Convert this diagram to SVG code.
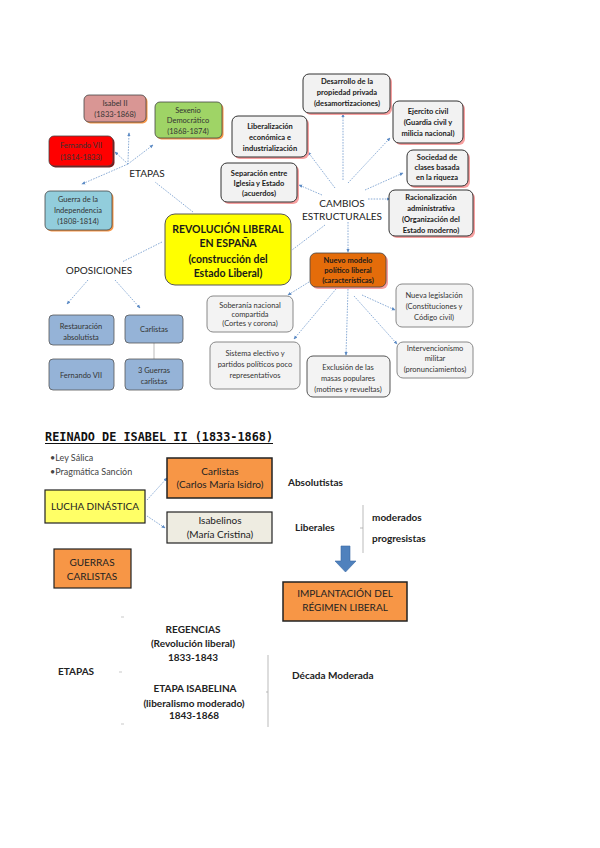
<svg xmlns="http://www.w3.org/2000/svg" width="600" height="848" viewBox="0 0 600 848">
<style>
.t{font-family:Lato,"Liberation Sans",sans-serif;font-size:7.5px;fill:#333;text-anchor:middle}
.b{font-weight:bold;fill:#1a1a1a}
.lab{font-family:Lato,"Liberation Sans",sans-serif;font-size:10px;fill:#222}
.m{text-anchor:middle}
.bx{stroke:#444;stroke-width:0.8}
.gr{fill:#f2f2f2;stroke:#333;stroke-width:1}
.gl{fill:#f3f3f3;stroke:#888;stroke-width:1}
.sh{fill:#f7a0a0}
.so{fill:#f79646}
.c{fill:none;stroke:#6f98cc;stroke-width:0.8;stroke-dasharray:1.6 1.2}
.ca{fill:none;stroke:#6f98cc;stroke-width:0.8;stroke-dasharray:1.6 1.2;marker-end:url(#ah)}
.s{fill:none;stroke:#aaa;stroke-width:0.8}
.bb{font-family:Lato,"Liberation Sans",sans-serif;font-size:10px;fill:#222;text-anchor:middle}
</style>
<defs>
<marker id="ah" viewBox="0 0 6 6" refX="5" refY="3" markerWidth="5" markerHeight="5" orient="auto">
<path d="M0,0.5 L6,3 L0,5.5 z" fill="#5b8ac4"/>
</marker>
</defs>
<rect width="600" height="848" fill="#fff"/>

<g id="connectors">
<line class="ca" x1="128" y1="162" x2="129" y2="133"/>
<line class="ca" x1="128" y1="164" x2="153" y2="145"/>
<line class="ca" x1="128" y1="164" x2="115" y2="152"/>
<line class="ca" x1="128" y1="164" x2="82" y2="184"/>
<line class="c" x1="193" y1="212" x2="155" y2="182"/>
<line class="c" x1="162" y1="242" x2="122" y2="262"/>
<line class="ca" x1="88" y1="280" x2="67" y2="304"/>
<line class="ca" x1="115" y1="280" x2="140" y2="308"/>
<line class="s" x1="154" y1="342" x2="154" y2="359"/>
<line class="ca" x1="343" y1="180" x2="343" y2="114"/>
<line class="ca" x1="348" y1="183" x2="390" y2="138"/>
<line class="ca" x1="335" y1="188" x2="308" y2="152"/>
<line class="ca" x1="322" y1="195" x2="299" y2="185"/>
<line class="ca" x1="365" y1="190" x2="403" y2="173"/>
<line class="ca" x1="368" y1="199" x2="390" y2="199"/>
<line class="c" x1="325" y1="225" x2="292" y2="250"/>
<line class="ca" x1="348" y1="222" x2="348" y2="252"/>
<line class="ca" x1="309" y1="282" x2="288" y2="295"/>
<line class="ca" x1="336" y1="289" x2="294" y2="339"/>
<line class="ca" x1="348" y1="289" x2="346" y2="355"/>
<line class="ca" x1="362" y1="295" x2="395" y2="310"/>
<line class="ca" x1="354" y1="296" x2="397" y2="344"/>
<line class="ca" x1="147" y1="500" x2="167" y2="478"/>
<line class="ca" x1="147" y1="516" x2="165" y2="528"/>
</g>

<g id="isabel2">
<rect x="85.5" y="96.5" width="62" height="27" rx="5" class="so"/>
<rect x="84" y="95" width="62" height="27" rx="5" fill="#d99694" class="bx"/>
<text class="t" x="115" y="106">Isabel II</text>
<text class="t" x="115" y="117">(1833-1868)</text>
</g>
<g id="sexenio">
<rect x="156.5" y="103.5" width="67" height="36" rx="5" class="so"/>
<rect x="155" y="102" width="67" height="36" rx="5" fill="#9fd466" class="bx"/>
<text class="t" x="188" y="113">Sexenio</text>
<text class="t" x="188" y="123">Democrático</text>
<text class="t" x="188" y="134">(1868-1874)</text>
</g>
<g id="fernando7a">
<rect x="50.5" y="137.5" width="64" height="30" rx="5" fill="#7a1a1a"/>
<rect x="49" y="136" width="64" height="30" rx="5" fill="#ff0000" class="bx"/>
<text class="t" x="81" y="148">Fernando VII</text>
<text class="t" x="81" y="160">(1814-1833)</text>
</g>
<g id="guerra">
<rect x="46.5" y="192.5" width="67" height="39" rx="5" class="so"/>
<rect x="45" y="191" width="67" height="39" rx="5" fill="#92cddc" class="bx"/>
<text class="t" x="78" y="202">Guerra de la</text>
<text class="t" x="78" y="213">Independencia</text>
<text class="t" x="78" y="224">(1808-1814)</text>
</g>
<g id="etapas1"><text class="lab m" x="147" y="177">ETAPAS</text></g>
<g id="revolucion">
<rect x="165" y="214" width="126" height="71" rx="10" fill="#ffff00" stroke="#555" stroke-width="1"/>
<text class="t b" style="font-size:10.5px" x="228" y="233">REVOLUCIÓN LIBERAL</text>
<text class="t b" style="font-size:10.5px" x="228" y="247">EN ESPAÑA</text>
<text class="t b" style="font-size:10.5px" x="228" y="263">(construcción del</text>
<text class="t b" style="font-size:10.5px" x="228" y="277">Estado Liberal)</text>
</g>
<g id="oposiciones"><text class="lab m" x="99" y="274">OPOSICIONES</text></g>
<g id="restauracion">
<rect x="49" y="315" width="65" height="30" rx="4" fill="#95b3d7" stroke="#555" stroke-width="0.8"/>
<text class="t" x="81" y="329">Restauración</text>
<text class="t" x="81" y="340">absolutista</text>
</g>
<g id="carlistas1">
<rect x="125" y="315" width="58" height="28" rx="4" fill="#95b3d7" stroke="#555" stroke-width="0.8"/>
<text class="t" x="154" y="332">Carlistas</text>
</g>
<g id="fernando7b">
<rect x="49" y="359" width="65" height="31" rx="4" fill="#95b3d7" stroke="#555" stroke-width="0.8"/>
<text class="t" x="81" y="378">Fernando VII</text>
</g>
<g id="guerras3">
<rect x="125" y="359" width="58" height="31" rx="4" fill="#95b3d7" stroke="#555" stroke-width="0.8"/>
<text class="t" x="154" y="373">3 Guerras</text>
<text class="t" x="154" y="384">carlistas</text>
</g>

<g id="desarrollo">
<rect x="305" y="76" width="87" height="39" rx="6" class="sh"/>
<rect x="303" y="74" width="87" height="39" rx="6" class="gr"/>
<text class="t b" x="347" y="84">Desarrollo de la</text>
<text class="t b" x="347" y="95">propiedad privada</text>
<text class="t b" x="347" y="106">(desamortizaciones)</text>
</g>
<g id="ejercito">
<rect x="395" y="103" width="70" height="42" rx="6" class="sh"/>
<rect x="393" y="101" width="70" height="42" rx="6" class="gr"/>
<text class="t b" x="428" y="114">Ejercito civil</text>
<text class="t b" x="428" y="125">(Guardia civil y</text>
<text class="t b" x="428" y="136">milicia nacional)</text>
</g>
<g id="liberalizacion">
<rect x="234" y="118" width="75" height="41" rx="6" class="sh"/>
<rect x="232" y="116" width="75" height="41" rx="6" class="gr"/>
<text class="t b" x="270" y="129">Liberalización</text>
<text class="t b" x="270" y="140">económica e</text>
<text class="t b" x="270" y="151">industrialización</text>
</g>
<g id="separacion">
<rect x="223" y="165" width="76" height="39" rx="6" class="sh"/>
<rect x="221" y="163" width="76" height="39" rx="6" class="gr"/>
<text class="t b" x="259" y="176">Separación entre</text>
<text class="t b" x="259" y="186">Iglesia y Estado</text>
<text class="t b" x="259" y="196">(acuerdos)</text>
</g>
<g id="sociedad">
<rect x="409" y="152" width="61" height="36" rx="6" class="sh"/>
<rect x="407" y="150" width="61" height="36" rx="6" class="gr"/>
<text class="t b" x="437" y="160">Sociedad de</text>
<text class="t b" x="437" y="170">clases basada</text>
<text class="t b" x="437" y="180">en la riqueza</text>
</g>
<g id="racionalizacion">
<rect x="391" y="192" width="84" height="46" rx="6" class="sh"/>
<rect x="389" y="190" width="84" height="46" rx="6" class="gr"/>
<text class="t b" x="431" y="200">Racionalización</text>
<text class="t b" x="431" y="211">administrativa</text>
<text class="t b" x="431" y="222">(Organización  del</text>
<text class="t b" x="431" y="233">Estado moderno)</text>
</g>
<g id="cambios">
<text class="lab m" x="342" y="207">CAMBIOS</text>
<text class="lab m" x="342" y="220">ESTRUCTURALES</text>
</g>
<g id="nuevomodelo">
<rect x="312" y="255" width="76" height="34" rx="6" fill="#f7a0a0"/>
<rect x="310" y="253" width="76" height="34" rx="6" fill="#e46c0a" stroke="#444" stroke-width="0.8"/>
<text class="t b" x="348" y="263">Nuevo modelo</text>
<text class="t b" x="348" y="273">político liberal</text>
<text class="t b" x="348" y="283">(características)</text>
</g>
<g id="legislacion">
<rect x="396" y="284" width="77" height="43" rx="6" class="gl"/>
<text class="t" x="434" y="298">Nueva legislación</text>
<text class="t" x="434" y="309">(Constituciones y</text>
<text class="t" x="434" y="320">Código civil)</text>
</g>
<g id="intervencionismo">
<rect x="397" y="342" width="76" height="36" rx="6" class="gl"/>
<text class="t" x="435" y="351">Intervencionismo</text>
<text class="t" x="435" y="361">militar</text>
<text class="t" x="435" y="372">(pronunciamientos)</text>
</g>
<g id="soberania">
<rect x="207" y="296" width="86" height="36" rx="6" class="gl"/>
<text class="t" x="250" y="308">Soberanía nacional</text>
<text class="t" x="250" y="317">compartida</text>
<text class="t" x="250" y="326">(Cortes y corona)</text>
</g>
<g id="sistema">
<rect x="210" y="342" width="90" height="47" rx="6" class="gl"/>
<text class="t" x="255" y="356">Sistema electivo y</text>
<text class="t" x="255" y="367">partidos políticos poco</text>
<text class="t" x="255" y="378">representativos</text>
</g>
<g id="exclusion">
<rect x="307" y="356" width="83" height="41" rx="6" fill="#f3f3f3" stroke="#555" stroke-width="1"/>
<text class="t" x="348" y="370">Exclusión de las</text>
<text class="t" x="348" y="381">masas populares</text>
<text class="t" x="348" y="392">(motines y revueltas)</text>
</g>

<g id="titulo">
<text x="45" y="441" font-family="'DejaVu Sans Mono',monospace" font-weight="bold" font-size="12" fill="#111" textLength="228" lengthAdjust="spacingAndGlyphs">REINADO DE ISABEL II (1833-1868)</text>
<line x1="45" y1="443.5" x2="273" y2="443.5" stroke="#111" stroke-width="1"/>
</g>
<g id="leysalica">
<text class="lab" style="font-size:9px;fill:#444" x="50" y="461">•Ley Sálica</text>
<text class="lab" style="font-size:9px;fill:#444" x="50" y="475">•Pragmática Sanción</text>
</g>
<g id="lucha">
<rect x="45" y="490" width="100" height="33" fill="#ffff66" stroke="#222" stroke-width="1.2"/>
<text class="bb" x="95" y="510">LUCHA DINÁSTICA</text>
</g>
<g id="carlistas2">
<rect x="167" y="458" width="105" height="40" fill="#f79646" stroke="#222" stroke-width="1.5"/>
<text class="bb" x="220" y="475">Carlistas</text>
<text class="bb" x="220" y="488">(Carlos María Isidro)</text>
</g>
<g id="isabelinos">
<rect x="167" y="512" width="105" height="31" fill="#eeece1" stroke="#222" stroke-width="1.2"/>
<text class="bb" x="220" y="524">Isabelinos</text>
<text class="bb" x="220" y="538">(María Cristina)</text>
</g>
<g id="absolutistas"><text class="lab b" x="288" y="486">Absolutistas</text></g>
<g id="liberales"><text class="lab b" x="295" y="531">Liberales</text></g>
<g id="bracket1">
<path d="M363,505 V553 M363,528 H360" class="s" stroke="#c8c8c8"/>
</g>
<g id="moderados"><text class="lab b" x="372" y="521">moderados</text></g>
<g id="progresistas"><text class="lab b" x="372" y="542">progresistas</text></g>
<g id="flecha">
<path d="M341,546 H350 V561 H356 L345.5,572 L335,561 H341 Z" fill="#4f81bd" stroke="#3a6aa5" stroke-width="0.6"/>
</g>
<g id="guerrascarlistas">
<rect x="54" y="549" width="77" height="39" fill="#f79646" stroke="#222" stroke-width="1.2"/>
<text class="bb" x="92" y="566">GUERRAS</text>
<text class="bb" x="92" y="580">CARLISTAS</text>
</g>
<g id="implantacion">
<rect x="283" y="582" width="124" height="39" fill="#f79646" stroke="#222" stroke-width="1.5"/>
<text class="bb" x="345" y="597">IMPLANTACIÓN DEL</text>
<text class="bb" x="345" y="611">RÉGIMEN LIBERAL</text>
</g>
<g id="regencias">
<text class="bb b" x="193" y="633">REGENCIAS</text>
<text class="bb b" x="193" y="647">(Revolución liberal)</text>
<text class="bb b" x="193" y="661">1833-1843</text>
</g>
<g id="etapas2"><text class="lab b" x="58" y="675">ETAPAS</text></g>
<g id="marks">
<path d="M121,617 H124 M119,672 H122 M121,724 H124" stroke="#bbb" stroke-width="0.8"/>
</g>
<g id="isabelina">
<text class="bb b" x="195" y="692">ETAPA ISABELINA</text>
<text class="bb b" x="194" y="707">(liberalismo moderado)</text>
<text class="bb b" x="194" y="719">1843-1868</text>
</g>
<g id="bracket2">
<path d="M268,655 V727 M268,692 H266" class="s" stroke="#c8c8c8"/>
</g>
<g id="decada"><text class="lab b" x="292" y="679">Década Moderada</text></g>
</svg>
